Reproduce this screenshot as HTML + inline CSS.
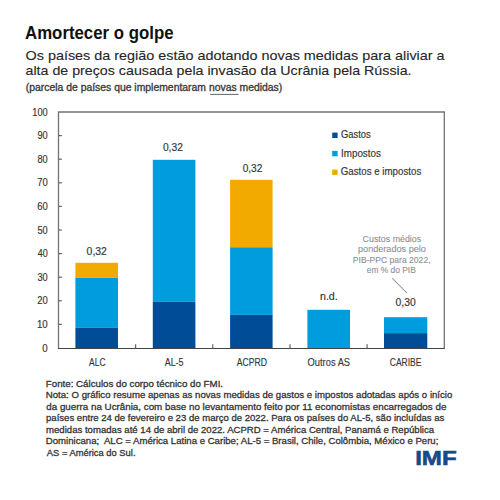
<!DOCTYPE html>
<html><head><meta charset="utf-8"><style>
html,body{margin:0;padding:0;background:#fff;width:500px;height:500px;overflow:hidden}
svg{display:block}
text{font-family:"Liberation Sans", sans-serif}
</style></head><body>
<svg width="500" height="500" viewBox="0 0 500 500">
<rect width="500" height="500" fill="#fff"/>
<rect x="75.40" y="327.40" width="42.60" height="20.90" fill="#004c97"/>
<rect x="75.40" y="277.50" width="42.60" height="49.90" fill="#009cde"/>
<rect x="75.40" y="262.80" width="42.60" height="14.70" fill="#f2aa00"/>
<rect x="152.80" y="301.40" width="42.60" height="46.90" fill="#004c97"/>
<rect x="152.80" y="159.80" width="42.60" height="141.60" fill="#009cde"/>
<rect x="230.10" y="314.90" width="42.50" height="33.40" fill="#004c97"/>
<rect x="230.10" y="247.20" width="42.50" height="67.70" fill="#009cde"/>
<rect x="230.10" y="179.80" width="42.50" height="67.40" fill="#f2aa00"/>
<rect x="307.40" y="309.80" width="42.60" height="38.50" fill="#009cde"/>
<rect x="384.00" y="333.10" width="43.30" height="15.20" fill="#004c97"/>
<rect x="384.00" y="317.20" width="43.30" height="15.90" fill="#009cde"/>
<path d="M58.5 348.5 V112 H444.3 V348.5" fill="none" stroke="#737373" stroke-width="1.3"/>
<path d="M58 348.5 H444.8" fill="none" stroke="#444" stroke-width="1.1"/>
<path d="M58.5 324.40 H61.9" stroke="#666" stroke-width="1.2"/>
<path d="M58.5 300.80 H61.9" stroke="#666" stroke-width="1.2"/>
<path d="M58.5 277.20 H61.9" stroke="#666" stroke-width="1.2"/>
<path d="M58.5 253.60 H61.9" stroke="#666" stroke-width="1.2"/>
<path d="M58.5 230.00 H61.9" stroke="#666" stroke-width="1.2"/>
<path d="M58.5 206.40 H61.9" stroke="#666" stroke-width="1.2"/>
<path d="M58.5 182.80 H61.9" stroke="#666" stroke-width="1.2"/>
<path d="M58.5 159.20 H61.9" stroke="#666" stroke-width="1.2"/>
<path d="M58.5 135.60 H61.9" stroke="#666" stroke-width="1.2"/>
<path d="M135.66 348.5 V344.3" stroke="#555" stroke-width="1.1"/>
<path d="M212.80 348.5 V344.3" stroke="#555" stroke-width="1.1"/>
<path d="M290.00 348.5 V344.3" stroke="#555" stroke-width="1.1"/>
<path d="M367.10 348.5 V344.3" stroke="#555" stroke-width="1.1"/>
<rect x="332.2" y="132.6" width="5.4" height="5.4" fill="#004c97"/>
<rect x="332.2" y="150.9" width="5.4" height="5.4" fill="#009cde"/>
<rect x="332.2" y="169.6" width="5.4" height="5.4" fill="#f2aa00"/>
<path d="M392.2 278.2 L406.7 292.8" stroke="#a0a0a0" stroke-width="1.1"/>
<path d="M210.2 94.4 H238.6" stroke="#555" stroke-width="0.9"/>
<text x="25.05" y="38.90" font-size="18.2" fill="#111" font-weight="bold" textLength="148.45" lengthAdjust="spacingAndGlyphs" xml:space="preserve">Amortecer o golpe</text>
<text x="25.50" y="59.60" font-size="13.5" fill="#262626" font-weight="normal" textLength="419.10" lengthAdjust="spacingAndGlyphs" xml:space="preserve" stroke="#262626" stroke-width="0.12">Os países da região estão adotando novas medidas para aliviar a</text>
<text x="25.50" y="75.10" font-size="13.5" fill="#262626" font-weight="normal" textLength="386.05" lengthAdjust="spacingAndGlyphs" xml:space="preserve" stroke="#262626" stroke-width="0.12">alta de preços causada pela invasão da Ucrânia pela Rússia.</text>
<text x="25.75" y="90.80" font-size="10" fill="#383838" font-weight="normal" textLength="256.50" lengthAdjust="spacingAndGlyphs" xml:space="preserve" stroke="#383838" stroke-width="0.32">(parcela de países que implementaram novas medidas)</text>
<text x="42.30" y="351.60" font-size="10" fill="#333" font-weight="normal" textLength="5.40" lengthAdjust="spacingAndGlyphs" xml:space="preserve" stroke="#333" stroke-width="0.15">0</text>
<text x="36.95" y="328.00" font-size="10" fill="#333" font-weight="normal" textLength="10.75" lengthAdjust="spacingAndGlyphs" xml:space="preserve" stroke="#333" stroke-width="0.15">10</text>
<text x="37.20" y="304.40" font-size="10" fill="#333" font-weight="normal" textLength="10.50" lengthAdjust="spacingAndGlyphs" xml:space="preserve" stroke="#333" stroke-width="0.15">20</text>
<text x="37.45" y="280.80" font-size="10" fill="#333" font-weight="normal" textLength="10.25" lengthAdjust="spacingAndGlyphs" xml:space="preserve" stroke="#333" stroke-width="0.15">30</text>
<text x="37.70" y="257.20" font-size="10" fill="#333" font-weight="normal" textLength="10.00" lengthAdjust="spacingAndGlyphs" xml:space="preserve" stroke="#333" stroke-width="0.15">40</text>
<text x="37.45" y="233.60" font-size="10" fill="#333" font-weight="normal" textLength="10.25" lengthAdjust="spacingAndGlyphs" xml:space="preserve" stroke="#333" stroke-width="0.15">50</text>
<text x="37.20" y="210.00" font-size="10" fill="#333" font-weight="normal" textLength="10.50" lengthAdjust="spacingAndGlyphs" xml:space="preserve" stroke="#333" stroke-width="0.15">60</text>
<text x="37.20" y="186.40" font-size="10" fill="#333" font-weight="normal" textLength="10.50" lengthAdjust="spacingAndGlyphs" xml:space="preserve" stroke="#333" stroke-width="0.15">70</text>
<text x="37.45" y="162.80" font-size="10" fill="#333" font-weight="normal" textLength="10.25" lengthAdjust="spacingAndGlyphs" xml:space="preserve" stroke="#333" stroke-width="0.15">80</text>
<text x="37.45" y="139.20" font-size="10" fill="#333" font-weight="normal" textLength="10.25" lengthAdjust="spacingAndGlyphs" xml:space="preserve" stroke="#333" stroke-width="0.15">90</text>
<text x="32.35" y="115.60" font-size="10" fill="#333" font-weight="normal" textLength="15.35" lengthAdjust="spacingAndGlyphs" xml:space="preserve" stroke="#333" stroke-width="0.15">100</text>
<text x="86.60" y="255.40" font-size="10" fill="#333" font-weight="normal" textLength="20.35" lengthAdjust="spacingAndGlyphs" xml:space="preserve" stroke="#333" stroke-width="0.15">0,32</text>
<text x="162.90" y="151.40" font-size="10" fill="#333" font-weight="normal" textLength="20.00" lengthAdjust="spacingAndGlyphs" xml:space="preserve" stroke="#333" stroke-width="0.15">0,32</text>
<text x="242.65" y="172.10" font-size="10" fill="#333" font-weight="normal" textLength="19.65" lengthAdjust="spacingAndGlyphs" xml:space="preserve" stroke="#333" stroke-width="0.15">0,32</text>
<text x="320.00" y="300.40" font-size="10" fill="#333" font-weight="normal" textLength="17.75" lengthAdjust="spacingAndGlyphs" xml:space="preserve" stroke="#333" stroke-width="0.15">n.d.</text>
<text x="395.60" y="306.00" font-size="10" fill="#333" font-weight="normal" textLength="20.10" lengthAdjust="spacingAndGlyphs" xml:space="preserve" stroke="#333" stroke-width="0.15">0,30</text>
<text x="340.90" y="138.00" font-size="10" fill="#333" font-weight="normal" textLength="29.80" lengthAdjust="spacingAndGlyphs" xml:space="preserve" stroke="#333" stroke-width="0.15">Gastos</text>
<text x="341.10" y="156.50" font-size="10" fill="#333" font-weight="normal" textLength="39.75" lengthAdjust="spacingAndGlyphs" xml:space="preserve" stroke="#333" stroke-width="0.15">Impostos</text>
<text x="340.75" y="175.40" font-size="10" fill="#333" font-weight="normal" textLength="80.50" lengthAdjust="spacingAndGlyphs" xml:space="preserve" stroke="#333" stroke-width="0.15">Gastos e impostos</text>
<text x="89.05" y="366.20" font-size="10.1" fill="#333" font-weight="normal" textLength="16.50" lengthAdjust="spacingAndGlyphs" xml:space="preserve" stroke="#333" stroke-width="0.12">ALC</text>
<text x="164.70" y="366.20" font-size="10.1" fill="#333" font-weight="normal" textLength="18.85" lengthAdjust="spacingAndGlyphs" xml:space="preserve" stroke="#333" stroke-width="0.12">AL-5</text>
<text x="236.85" y="366.20" font-size="10.1" fill="#333" font-weight="normal" textLength="30.20" lengthAdjust="spacingAndGlyphs" xml:space="preserve" stroke="#333" stroke-width="0.12">ACPRD</text>
<text x="307.60" y="366.20" font-size="10.1" fill="#333" font-weight="normal" textLength="42.50" lengthAdjust="spacingAndGlyphs" xml:space="preserve" stroke="#333" stroke-width="0.12">Outros AS</text>
<text x="389.75" y="366.20" font-size="10.1" fill="#333" font-weight="normal" textLength="31.65" lengthAdjust="spacingAndGlyphs" xml:space="preserve" stroke="#333" stroke-width="0.12">CARIBE</text>
<text x="362.60" y="241.60" font-size="8.7" fill="#8f8f8f" font-weight="normal" textLength="58.60" lengthAdjust="spacingAndGlyphs" xml:space="preserve" stroke="#8f8f8f" stroke-width="0.1">Custos médios</text>
<text x="358.00" y="252.10" font-size="8.7" fill="#8f8f8f" font-weight="normal" textLength="67.90" lengthAdjust="spacingAndGlyphs" xml:space="preserve" stroke="#8f8f8f" stroke-width="0.1">ponderados pelo</text>
<text x="352.80" y="263.40" font-size="8.7" fill="#8f8f8f" font-weight="normal" textLength="77.75" lengthAdjust="spacingAndGlyphs" xml:space="preserve" stroke="#8f8f8f" stroke-width="0.1">PIB-PPC para 2022,</text>
<text x="366.75" y="273.00" font-size="8.7" fill="#8f8f8f" font-weight="normal" textLength="49.00" lengthAdjust="spacingAndGlyphs" xml:space="preserve" stroke="#8f8f8f" stroke-width="0.1">em % do PIB</text>
<text x="45.80" y="386.90" font-size="9.8" fill="#333" font-weight="normal" textLength="177.25" lengthAdjust="spacingAndGlyphs" xml:space="preserve" stroke="#333" stroke-width="0.3">Fonte: Cálculos do corpo técnico do FMI.</text>
<text x="45.80" y="398.37" font-size="9.8" fill="#333" font-weight="normal" textLength="406.55" lengthAdjust="spacingAndGlyphs" xml:space="preserve" stroke="#333" stroke-width="0.3">Nota: O gráfico resume apenas as novas medidas de gastos e impostos adotadas após o início</text>
<text x="46.30" y="409.84" font-size="9.8" fill="#333" font-weight="normal" textLength="400.05" lengthAdjust="spacingAndGlyphs" xml:space="preserve" stroke="#333" stroke-width="0.3">da guerra na Ucrânia, com base no levantamento feito por 11 economistas encarregados de</text>
<text x="46.05" y="421.31" font-size="9.8" fill="#333" font-weight="normal" textLength="398.30" lengthAdjust="spacingAndGlyphs" xml:space="preserve" stroke="#333" stroke-width="0.3">países entre 24 de fevereiro e 23 de março de 2022. Para os países do AL-5, são incluídas as</text>
<text x="46.05" y="432.78" font-size="9.8" fill="#333" font-weight="normal" textLength="388.00" lengthAdjust="spacingAndGlyphs" xml:space="preserve" stroke="#333" stroke-width="0.3">medidas tomadas até 14 de abril de 2022. ACPRD = América Central, Panamá e República</text>
<text x="45.80" y="444.25" font-size="9.8" fill="#333" font-weight="normal" textLength="392.55" lengthAdjust="spacingAndGlyphs" xml:space="preserve" stroke="#333" stroke-width="0.3">Dominicana;  ALC = América Latina e Caribe; AL-5 = Brasil, Chile, Colômbia, México e Peru;</text>
<text x="46.80" y="455.72" font-size="9.8" fill="#333" font-weight="normal" textLength="88.70" lengthAdjust="spacingAndGlyphs" xml:space="preserve" stroke="#333" stroke-width="0.3">AS = América do Sul.</text>
<text x="415.15" y="464.60" font-size="20.6" fill="#174a8c" font-weight="bold" textLength="41.50" lengthAdjust="spacingAndGlyphs" xml:space="preserve" stroke="#174a8c" stroke-width="0.6">IMF</text>
</svg>
</body></html>
